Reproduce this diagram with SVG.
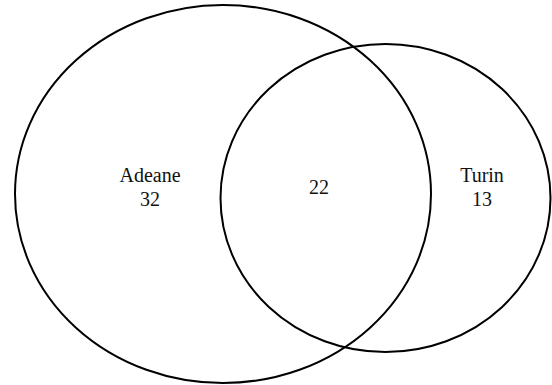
<svg xmlns="http://www.w3.org/2000/svg" width="552" height="385" viewBox="0 0 552 385">
<style>
.set{fill:none;stroke:#000;stroke-width:2}
.lbl{font-family:"Liberation Serif","Times New Roman",serif;font-size:20px;fill:#111;text-anchor:middle}
</style>
<rect width="552" height="385" fill="#fff"/>
<g id="adeane">
<ellipse class="set" cx="223" cy="194" rx="208" ry="189"/>
<text class="lbl" x="150" y="182">Adeane</text>
<text class="lbl" x="150" y="206">32</text>
</g>
<g id="turin">
<ellipse class="set" cx="385.5" cy="198" rx="165" ry="154"/>
<text class="lbl" x="482" y="182">Turin</text>
<text class="lbl" x="482" y="206">13</text>
</g>
<g id="intersection">
<text class="lbl" x="319" y="194">22</text>
</g>
<g id="connectors"></g>
</svg>
